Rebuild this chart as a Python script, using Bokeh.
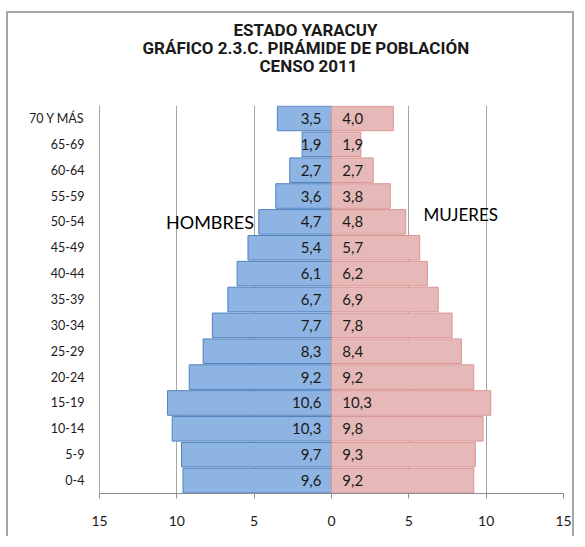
from bokeh.plotting import figure
from bokeh.models import ColumnDataSource, FixedTicker, Label, Title
from bokeh.embed import file_html
from bokeh.resources import INLINE

# ---- data ----
age_groups = ["0-4", "5-9", "10-14", "15-19", "20-24", "25-29", "30-34", "35-39",
              "40-44", "45-49", "50-54", "55-59", "60-64", "65-69", "70 Y MÁS"]
hombres = [9.6, 9.7, 10.3, 10.6, 9.2, 8.3, 7.7, 6.7, 6.1, 5.4, 4.7, 3.6, 2.7, 1.9, 3.5]
mujeres = [9.2, 9.3, 9.8, 10.3, 9.2, 8.4, 7.8, 6.9, 6.2, 5.7, 4.8, 3.8, 2.7, 1.9, 4.0]
x_ticks = [-15, -10, -5, 0, 5, 10, 15]
title_lines = ["ESTADO YARACUY", "GRÁFICO 2.3.C. PIRÁMIDE DE POBLACIÓN", "CENSO 2011"]

FONT = "Lato"
TFONT = "Roboto"
idx = list(range(len(age_groups)))

src = ColumnDataSource(dict(
    y=idx,
    m_left=[-v for v in hombres],
    zero=[0] * len(idx),
    f_right=mujeres,
    m_lab=[f"{v:.1f}".replace(".", ",") for v in hombres],
    f_lab=[f"{v:.1f}".replace(".", ",") for v in mujeres],
    m_pos=[-0.65] * len(idx),
    f_pos=[0.7] * len(idx),
))

p = figure(width=568, height=525, x_range=(-15, 15), y_range=(-0.5, 14.5),
           output_backend="svg", toolbar_location=None,
           min_border_left=91, min_border_right=13, min_border_top=92, min_border_bottom=45)
p.styles = {"border-top": "2px solid #a6a6a6", "border-left": "2px solid #a6a6a6",
            "border-right": "2px solid #a6a6a6", "margin-top": "11px", "margin-left": "6px"}
p.outline_line_color = None
p.background_fill_color = "white"
p.border_fill_color = "white"

# grid
p.xgrid.ticker = FixedTicker(ticks=x_ticks)
p.xgrid.grid_line_color = "#a6a6a6"
p.xgrid.grid_line_width = 1
p.ygrid.grid_line_color = None

# bars
p.hbar(y="y", left="m_left", right="zero", height=0.95, source=src,
       fill_color="#8EB4E3", line_color="#4F81BD", line_width=1)
p.hbar(y="y", left="zero", right="f_right", height=0.95, source=src,
       fill_color="#E6B9B8", line_color="#D99694", line_width=1)

# value labels
p.text(x="m_pos", y="y", text="m_lab", source=src, text_align="right",
       text_baseline="middle", text_font_size="15px", text_color="#1a1a1a",
       text_font={"value": FONT})
p.text(x="f_pos", y="y", text="f_lab", source=src, text_align="left",
       text_baseline="middle", text_font_size="15px", text_color="#1a1a1a",
       text_font={"value": FONT})

# axes
p.xaxis.ticker = FixedTicker(ticks=x_ticks)
p.xaxis.major_label_overrides = {t: str(abs(t)) for t in x_ticks}
p.xaxis.major_tick_out = 5
p.xaxis.major_tick_in = 0
p.xaxis.minor_tick_line_color = None
p.xaxis.axis_line_color = "#8c8c8c"
p.xaxis.major_tick_line_color = "#8c8c8c"
p.xaxis.major_label_standoff = 17
p.xaxis.major_label_text_font = FONT
p.xaxis.major_label_text_font_size = "14px"
p.xaxis.major_label_text_color = "#1a1a1a"

p.yaxis.ticker = FixedTicker(ticks=idx)
p.yaxis.major_label_overrides = {i: g for i, g in zip(idx, age_groups)}
p.yaxis.major_tick_line_color = None
p.yaxis.minor_tick_line_color = None
p.yaxis.axis_line_color = "#a6a6a6"
p.yaxis.major_label_standoff = 9
p.yaxis.major_label_text_font = FONT
p.yaxis.major_label_text_font_size = "12.5px"
p.yaxis.major_label_text_color = "#1a1a1a"

# series names
p.add_layout(Label(x=-10.7, y=10.0, text="HOMBRES", text_align="left", text_baseline="middle",
                   text_font=FONT, text_font_size="18px", text_color="#000000"))
p.add_layout(Label(x=5.95, y=10.3, text="MUJERES", text_align="left", text_baseline="middle",
                   text_font=FONT, text_font_size="17px", text_color="#000000"))


def make_title(text, off):
    kw = dict(text=text, align="left", offset=off, text_font=TFONT, text_font_style="bold",
              text_color="#1a1a1a", vertical_align="middle")
    try:
        return Title(text_font_size="17px", standoff=-4, **kw)
    except Exception:
        return Title(text_font_size="14px", standoff=0, **kw)


# title lines (stacked outward from the plot: spacer, line 3, line 2, line 1)
p.title.text = ""
p.add_layout(Title(text=" ", text_font_size="25px", text_font=TFONT, standoff=0), "above")
for line, off in zip(reversed(title_lines), [160, 43, 134]):
    p.add_layout(make_title(line, off), "above")

open("out.html", "w").write(file_html(p, INLINE))
